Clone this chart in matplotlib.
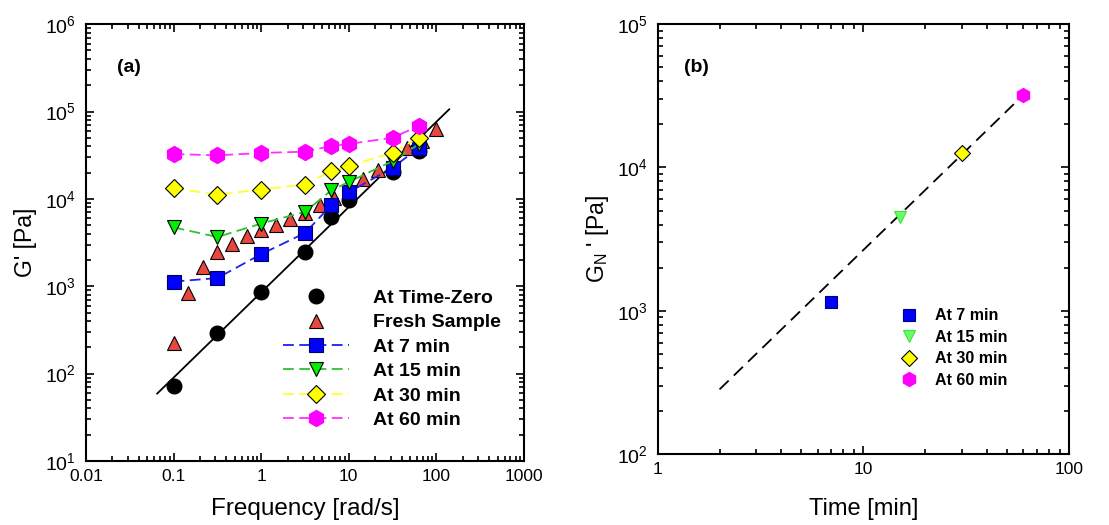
import matplotlib
matplotlib.use('Agg')
import matplotlib.pyplot as plt
from matplotlib.ticker import LogLocator, FixedLocator, FixedFormatter, NullFormatter

plt.rcParams['font.family'] = ['Liberation Sans', 'DejaVu Sans']
plt.rcParams['mathtext.default'] = 'regular'

# ---- panel (a) data ----
freq = [0.1, 0.316, 1, 3.16, 6.3, 10, 31.6, 63]
g_zero = [73, 293, 869, 2460, 6200, 9800, 20400, 35000]
g_7 = [1130, 1240, 2330, 4060, 8450, 11900, 22700, 38500]
g_15 = [4720, 3660, 5210, 7100, 12500, 15600, 27100, 42200]
g_30 = [13200, 11200, 12800, 14600, 20800, 23700, 33800, 50100]
g_60 = [32600, 31500, 33500, 34700, 40300, 42500, 50100, 68400]

freq_fresh = [0.1, 0.147, 0.215, 0.316, 0.464, 0.681, 1, 1.47, 2.15, 3.16,
              4.64, 6.81, 10, 14.7, 21.5, 31.6, 46.4, 68.1, 100]
g_fresh = [226, 830, 1680, 2440, 3070, 3720, 4370, 5010, 5890, 6900,
           8530, 10300, 13000, 16700, 21200, 28000, 37900, 46000, 62700]

fit_a_x = [0.065, 140]
fit_a_y = [59, 106000]

freq_ticks = [0.01, 0.1, 1, 10, 100, 1000]
freq_labels = ['0.01', '0.1', '1', '10', '100', '1000']

# ---- panel (b) data ----
times = [7, 15, 30, 60]
g_n = [1155, 4500, 12600, 32100]
time_names = ['At 7 min', 'At 15 min', 'At 30 min', 'At 60 min']
fit_b_x = [2.0, 58.9]
fit_b_y = [283, 31300]

time_ticks = [1, 10, 100]
time_labels = ['1', '10', '100']

fig = plt.figure(figsize=(11.09, 5.25), dpi=100)
ax1 = fig.add_axes([0.0775, 0.122, 0.395, 0.832])
ax2 = fig.add_axes([0.593, 0.135, 0.371, 0.819])


def style_axis(ax):
    ax.set_xscale('log')
    ax.set_yscale('log')
    ax.tick_params(which='both', direction='in', top=True, right=True, width=1.2)
    ax.tick_params(which='major', length=6)
    ax.tick_params(which='minor', length=3.5)
    ax.tick_params(axis='x', pad=6, labelsize=12.5)
    ax.tick_params(axis='y', pad=7, labelsize=14)
    for s in ax.spines.values():
        s.set_linewidth(1.5)
    ax.yaxis.set_major_locator(LogLocator(base=10, numticks=20))
    ax.yaxis.set_minor_locator(LogLocator(base=10, subs=range(2, 10), numticks=20))
    ax.yaxis.set_minor_formatter(NullFormatter())
    ax.xaxis.set_minor_locator(LogLocator(base=10, subs=range(2, 10), numticks=20))
    ax.xaxis.set_minor_formatter(NullFormatter())


# panel (a)
style_axis(ax1)
dash = (6, 3)
ax1.plot(fit_a_x, fit_a_y, color='black', lw=1.3, zorder=2)
ax1.plot(freq, g_zero, 'o', color='black', ms=10.5, label='At Time-Zero', zorder=3)
ax1.plot(freq_fresh, g_fresh, '^', mfc='#e8463f', mec='black', mew=0.8, ms=10,
         label='Fresh Sample', zorder=3)
ax1.plot(freq, g_7, 's--', color='#2020ee', mfc='#0000ff', mec='#000060', mew=0.8,
         ms=9.5, lw=1.3, dashes=dash, label='At 7 min', zorder=4)
ax1.plot(freq, g_15, 'v--', color='#30c030', mfc='#00ee00', mec='black', mew=0.8,
         ms=10.5, lw=1.3, dashes=dash, label='At 15 min', zorder=4)
ax1.plot(freq, g_30, 'D--', color='#ffff30', mfc='#ffff00', mec='black', mew=0.8,
         ms=9.5, lw=1.3, dashes=dash, label='At 30 min', zorder=4)
ax1.plot(freq, g_60, 'h--', color='#ff30ff', mfc='#ff00ff', mec='#ff00ff',
         ms=11.5, lw=1.3, dashes=dash, label='At 60 min', zorder=4)

ax1.set_xlim(0.01, 1000)
ax1.set_ylim(10, 1e6)
ax1.xaxis.set_major_locator(FixedLocator(freq_ticks))
ax1.xaxis.set_major_formatter(FixedFormatter(freq_labels))
ax1.set_xlabel('Frequency [rad/s]', fontsize=17.5, labelpad=10)
ax1.set_ylabel("G' [Pa]", fontsize=16.5, labelpad=6)
ax1.text(0.07, 0.90, '(a)', transform=ax1.transAxes, fontsize=14,
         fontweight='bold', va='center')
leg1 = ax1.legend(loc='upper left', bbox_to_anchor=(0.45, 0.393), frameon=False,
                  numpoints=1, handlelength=3.4, handletextpad=1.2,
                  labelspacing=0.35, borderpad=0, borderaxespad=0,
                  prop={'size': 14, 'weight': 'bold'})

# panel (b)
style_axis(ax2)
ax2.plot(fit_b_x, fit_b_y, color='black', lw=1.3, dashes=(7, 4), zorder=2)
ax2.plot(times[0], g_n[0], 's', mfc='#0000ff', mec='#000080', mew=0.8, ms=8,
         ls='none', label=time_names[0], zorder=3)
ax2.plot(times[1], g_n[1], 'v', mfc='#66ff66', mec='#44dd44', mew=0.8, ms=9,
         ls='none', label=time_names[1], zorder=3)
ax2.plot(times[2], g_n[2], 'D', mfc='#ffff00', mec='black', mew=0.8, ms=8,
         ls='none', label=time_names[2], zorder=3)
ax2.plot(times[3], g_n[3], 'h', mfc='#ff00ff', mec='#ff00ff', ms=10,
         ls='none', label=time_names[3], zorder=3)

ax2.set_xlim(1, 100)
ax2.set_ylim(100, 1e5)
ax2.xaxis.set_major_locator(FixedLocator(time_ticks))
ax2.xaxis.set_major_formatter(FixedFormatter(time_labels))
ax2.set_xlabel('Time [min]', fontsize=17, labelpad=15)
ax2.set_ylabel(r"G$_\mathregular{N}$ ' [Pa]", fontsize=16.5, labelpad=4)
ax2.text(0.063, 0.90, '(b)', transform=ax2.transAxes, fontsize=14,
         fontweight='bold', va='center')
leg2 = ax2.legend(loc='upper left', bbox_to_anchor=(0.59, 0.339), frameon=False,
                  numpoints=1, handlelength=1.1, handletextpad=1.05,
                  labelspacing=0.4, borderpad=0, borderaxespad=0,
                  prop={'size': 11.5, 'weight': 'bold'})

fig.savefig('out.png', dpi=100)
